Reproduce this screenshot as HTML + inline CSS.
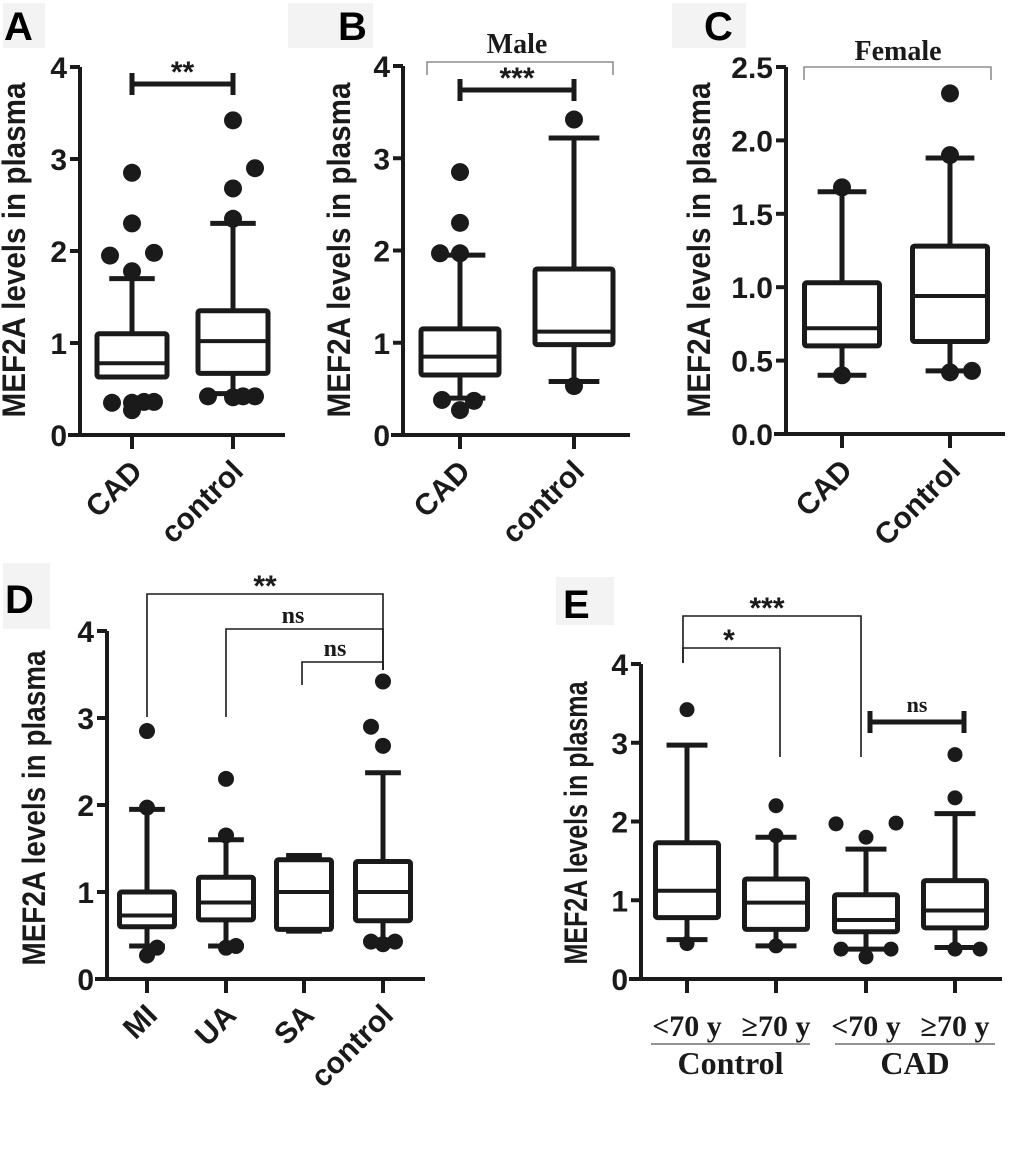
<!DOCTYPE html>
<html><head><meta charset="utf-8"><style>
html,body{margin:0;padding:0;background:#fff;}
svg{display:block;}
text{font-family:"Liberation Sans",sans-serif;}
.serif{font-family:"Liberation Serif",serif;}
</style></head><body>
<svg id="fig" width="1020" height="1160" viewBox="0 0 1020 1160" xmlns="http://www.w3.org/2000/svg"></svg>
<script>
// ---- Panel A data ----
const catsA = ["CAD", "control"];
const q1A = [0.63, 0.67];
const medA = [0.78, 1.02];
const q3A = [1.10, 1.35];
const whLoA = [0.63, 0.45];
const whHiA = [1.70, 2.30];
const outA = [[0.35,0.35,0.36,0.36,0.27,1.78,1.95,1.98,2.30,2.85],[0.42,0.41,0.42,0.42,2.35,2.68,2.90,3.42]];
const outDxA = [[-20,0,12,22,0,0,-22,22,0,0],[-25,0,10,22,0,0,22,0]];
const ticksA = [0,1,2,3,4];
// ---- Panel B data ----
const catsB = ["CAD", "control"];
const q1B = [0.65, 0.98];
const medB = [0.85, 1.12];
const q3B = [1.15, 1.80];
const whLoB = [0.40, 0.58];
const whHiB = [1.95, 3.22];
const outB = [[0.38,0.37,0.27,1.97,1.97,2.30,2.85],[0.53,3.42]];
const outDxB = [[-18,14,0,-20,0,0,0],[0,0]];
const ticksB = [0,1,2,3,4];
// ---- Panel C data ----
const catsC = ["CAD", "Control"];
const q1C = [0.60, 0.63];
const medC = [0.72, 0.94];
const q3C = [1.03, 1.28];
const whLoC = [0.40, 0.43];
const whHiC = [1.65, 1.88];
const outC = [[0.40,1.68],[0.42,0.43,1.90,2.32]];
const outDxC = [[0,0],[0,22,0,0]];
const ticksC = [0,0.5,1.0,1.5,2.0,2.5];
// ---- Panel D data ----
const catsD = ["MI", "UA", "SA", "control"];
const q1D = [0.60, 0.68, 0.57, 0.67];
const medD = [0.73, 0.88, 1.00, 1.00];
const q3D = [1.00, 1.17, 1.37, 1.35];
const whLoD = [0.38, 0.38, 0.55, 0.45];
const whHiD = [1.95, 1.60, 1.42, 2.37];
const outD = [[0.36,0.27,1.97,2.85],[0.38,0.36,1.65,2.30],[],[0.43,0.40,0.43,2.68,2.90,3.42]];
const outDxD = [[10,0,0,0],[10,0,0,0],[],[-12,0,12,0,-12,0]];
const ticksD = [0,1,2,3,4];
// ---- Panel E data ----
const catsE = ["<70 y", "≥70 y", "<70 y", "≥70 y"];
const q1E = [0.78, 0.63, 0.60, 0.65];
const medE = [1.12, 0.97, 0.75, 0.87];
const q3E = [1.73, 1.27, 1.07, 1.25];
const whLoE = [0.50, 0.42, 0.38, 0.40];
const whHiE = [2.97, 1.80, 1.65, 2.10];
const outE = [[0.45,3.42],[0.42,1.82,2.20],[0.38,0.38,0.28,1.80,1.97,1.98],[0.38,0.38,2.30,2.85]];
const outDxE = [[0,0],[0,0,0],[-25,25,0,0,-30,30],[0,25,0,0]];
const ticksE = [0,1,2,3,4];

const NS = "http://www.w3.org/2000/svg";
const svg = document.getElementById("fig");
function mk(tag, attrs, parent, txt){
  const e = document.createElementNS(NS, tag);
  for (const k in attrs) e.setAttribute(k, attrs[k]);
  if (txt !== undefined) e.textContent = txt;
  (parent || svg).appendChild(e);
  return e;
}

function panel(p){
  const g = mk("g", {});
  
  
  const ymax = p.ticks[p.ticks.length-1];
  const y = v => p.y0 - (p.y0 - p.ytop) * v / ymax;
  const x = i => p.xs[i];
  const bg = mk("rect", {x:p.lbl[0], y:p.lbl[1], width:p.lbl[2], height:p.lbl[3], fill:"#f3f3f3"}, g);
  
  
  const lt = mk("text", {x:p.lbl[4], y:p.lbl[5], "font-size":40, "font-weight":"bold"}, g, p.id);
  
  
  const ax = mk("path", {d:`M${p.ax} ${p.ytop} V${p.y0} M${p.ax-12} ${p.y0} H${p.axEnd}`, stroke:"#1a1a1a", "stroke-width":4, fill:"none"}, g);
  
  
  p.ticks.forEach(t => {
    mk("line", {x1:p.ax-10, x2:p.ax, y1:y(t), y2:y(t), stroke:"#1a1a1a", "stroke-width":4}, g);
    const tl = mk("text", {x:p.ax-13, y:y(t)+11, "font-size":30, "font-weight":"bold", "text-anchor":"end", fill:"#1a1a1a"}, g, p.tickFmt(t));
    
    
  });
  const yt = mk("text", {x:0, y:0, "font-size":32, "font-weight":"bold", "text-anchor":"middle", transform:`translate(${p.titleX},${p.titleY}) rotate(-90)`, textLength:p.titleLen, lengthAdjust:"spacingAndGlyphs", fill:"#1a1a1a"}, g, "MEF2A levels in plasma");
  
  
  p.cats.forEach((c, i) => {
    const cx = x(i), hw = p.bw/2;
    mk("line", {x1:cx, x2:cx, y1:p.y0, y2:p.y0+14, stroke:"#1a1a1a", "stroke-width":4}, g);
    const wh = mk("path", {d:`M${cx} ${y(p.q3[i])} V${y(p.whHi[i])} M${cx-hw*0.65} ${y(p.whHi[i])} H${cx+hw*0.65} M${cx} ${y(p.q1[i])} V${y(p.whLo[i])} M${cx-hw*0.65} ${y(p.whLo[i])} H${cx+hw*0.65}`, stroke:"#1a1a1a", "stroke-width":5, fill:"none"}, g);
    
    
    const bx = mk("rect", {x:cx-hw, y:y(p.q3[i]), width:p.bw, height:y(p.q1[i])-y(p.q3[i]), fill:"#fff", stroke:"#1a1a1a", "stroke-width":5, rx:2}, g);
    
    
    const md = mk("line", {x1:cx-hw, x2:cx+hw, y1:y(p.med[i]), y2:y(p.med[i]), stroke:"#1a1a1a", "stroke-width":4}, g);
    
    
    p.out[i].forEach((v, j) => {
      const d = mk("circle", {cx:cx + p.outDx[i][j]*p.dxs, cy:y(v), r:p.r, fill:"#1a1a1a"}, g);
      
      
    });
    let cl;
    if (p.rot) {
      cl = mk("text", {x:0, y:0, "font-size":30, "font-weight":"bold", "text-anchor":"end", transform:`translate(${cx+12},${p.y0+38}) rotate(-45)`, fill:"#1a1a1a"}, g, c);
    } else {
      cl = mk("text", {x:cx, y:p.y0+57, "font-size":30, "font-weight":"bold", "text-anchor":"middle", class:"serif", fill:"#1a1a1a"}, g, c);
    }
    
    
  });
  p.brackets.forEach(b => {
    const xa = b.a !== undefined ? x(b.a) : b.xa, xb = b.b !== undefined ? x(b.b) : b.xb;
    let br;
    if (b.thick) {
      br = mk("path", {d:`M${xa} ${b.y-11} V${b.y+11} M${xa} ${b.y} H${xb} M${xb} ${b.y-11} V${b.y+11}`, stroke:"#1a1a1a", "stroke-width":5, fill:"none"}, g);
    } else {
      br = mk("path", {d:`M${xa} ${b.ya} V${b.y} H${xb} V${b.yb}`, stroke:b.light?"#777":"#1a1a1a", "stroke-width":b.light?1.3:1.6, fill:"none"}, g);
    }
    
    
    if (b.t) {
      const st = b.t.startsWith("*");
      const bt = mk("text", {x:(b.tx!==undefined?b.tx:(xa+xb)/2), y:b.y-(b.thick?10:6)+(st?8:0), "font-size":st?30:(b.fs||24), "font-weight":"bold", "text-anchor":"middle", class:st?"":"serif", fill:"#1a1a1a"}, g, b.t);
      
      
    }
  });
  return g;
}

panel({id:"A", cats:catsA, q1:q1A, med:medA, q3:q3A, whLo:whLoA, whHi:whHiA, out:outA, outDx:outDxA, dxs:1, ticks:ticksA,
  tickFmt:t=>String(t), y0:435, ytop:67, ax:80, axEnd:285, xs:[132,233], bw:70, r:9,
  lbl:[3,3,42,45,4,40], titleX:25, titleY:250, titleLen:335, rot:true,
  brackets:[{a:0,b:1,y:84,thick:true,t:"**"}]});
panel({id:"B", cats:catsB, q1:q1B, med:medB, q3:q3B, whLo:whLoB, whHi:whHiB, out:outB, outDx:outDxB, dxs:1, ticks:ticksB,
  tickFmt:t=>String(t), y0:435, ytop:66, ax:403, axEnd:630, xs:[460,574], bw:78, r:9,
  lbl:[288,3,85,45,338,40], titleX:350, titleY:250, titleLen:335, rot:true,
  brackets:[{a:0,b:1,y:90,thick:true,t:"***"},{xa:427,xb:613,y:62,ya:75,yb:75,light:true}]});
panel({id:"C", cats:catsC, q1:q1C, med:medC, q3:q3C, whLo:whLoC, whHi:whHiC, out:outC, outDx:outDxC, dxs:1, ticks:ticksC,
  tickFmt:t=>t.toFixed(1), y0:434, ytop:67, ax:786, axEnd:1005, xs:[842,950], bw:75, r:9,
  lbl:[672,3,74,45,704,40], titleX:710, titleY:250, titleLen:335, rot:true,
  brackets:[{xa:804,xb:991,y:67,ya:80,yb:80,light:true}]});
panel({id:"D", cats:catsD, q1:q1D, med:medD, q3:q3D, whLo:whLoD, whHi:whHiD, out:outD, outDx:outDxD, dxs:1, ticks:ticksD,
  tickFmt:t=>String(t), y0:979, ytop:631, ax:107, axEnd:425, xs:[147,226,304,383], bw:55, r:8,
  lbl:[3,563,47,66,5,613], titleX:45, titleY:808, titleLen:315, rot:true,
  brackets:[{xa:147,xb:383,y:594,ya:717,yb:670,t:"**"},{xa:226,xb:383,y:629,ya:717,yb:670,t:"ns",tx:293},{xa:302,xb:383,y:662,ya:685,yb:670,t:"ns",tx:335}]});
panel({id:"E", cats:catsE, q1:q1E, med:medE, q3:q3E, whLo:whLoE, whHi:whHiE, out:outE, outDx:outDxE, dxs:1, ticks:ticksE,
  tickFmt:t=>String(t), y0:979, ytop:664, ax:641, axEnd:1002, xs:[687,776,866,955], bw:63, r:7.5,
  lbl:[556,577,58,48,563,618], titleX:587, titleY:823, titleLen:283, rot:false,
  brackets:[{xa:683,xb:861,y:616,ya:663,yb:757,t:"***",tx:767},{xa:683,xb:780,y:648,ya:663,yb:757,t:"*",tx:729},{xa:870,xb:964,y:722,thick:true,t:"ns",fs:22}]});

const grpNames = ["Control", "CAD"];
const grpSpan = [[651,810],[835,995]];
grpNames.forEach((n, i) => {
  const ln = mk("line", {x1:grpSpan[i][0], x2:grpSpan[i][1], y1:1044, y2:1044, stroke:"#555", "stroke-width":1.3});
  
  
  const t = mk("text", {x:(grpSpan[i][0]+grpSpan[i][1])/2, y:1074, "font-size":32, "font-weight":"bold", "text-anchor":"middle", class:"serif", fill:"#1a1a1a"}, svg, n);
  
  
});
const ttl = [["Male",517,53],["Female",898,60]];
ttl.forEach(a => {
  const t = mk("text", {x:a[1], y:a[2], "font-size":28, "font-weight":"bold", "text-anchor":"middle", class:"serif", fill:"#1a1a1a"}, svg, a[0]);
  
  
});
</script>
</body></html>
